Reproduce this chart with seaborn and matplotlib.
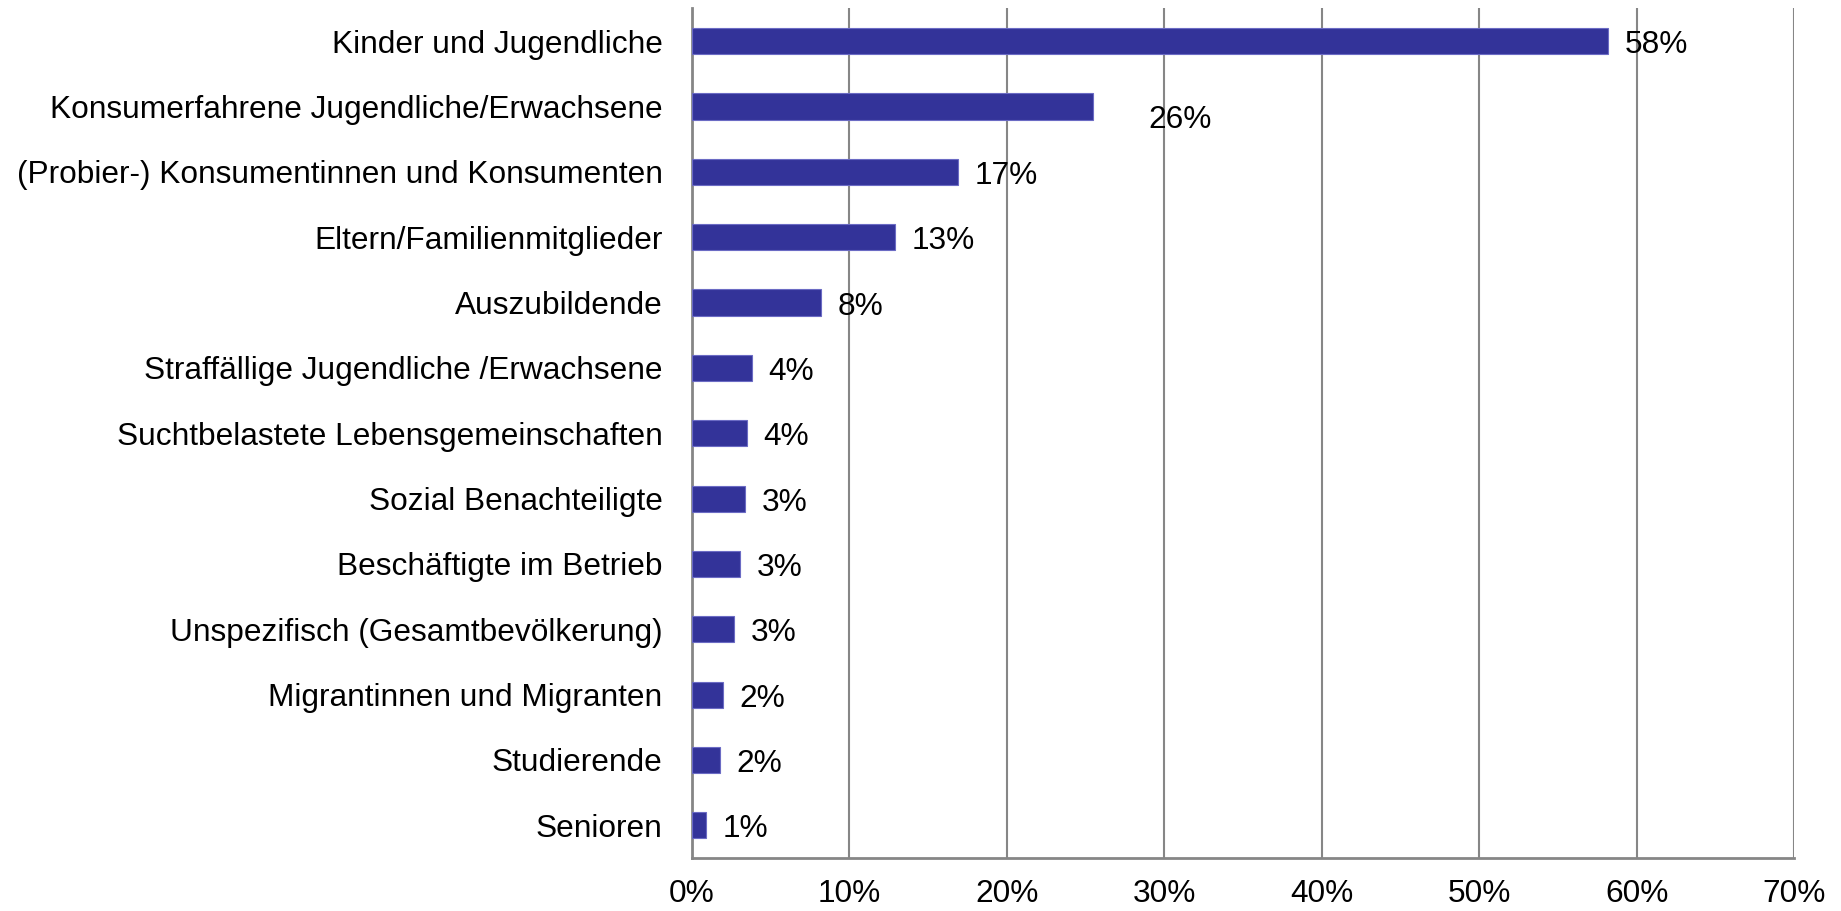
import matplotlib
matplotlib.use("Agg")
import matplotlib.pyplot as plt
import seaborn as sns
import pandas as pd
from matplotlib.ticker import PercentFormatter, FixedLocator

# ======================================
# Daten
# ======================================
zielgruppen = [
    "Kinder und Jugendliche",
    "Konsumerfahrene Jugendliche/Erwachsene",
    "(Probier-) Konsumentinnen und Konsumenten",
    "Eltern/Familienmitglieder",
    "Auszubildende",
    "Straffällige Jugendliche /Erwachsene",
    "Suchtbelastete Lebensgemeinschaften",
    "Sozial Benachteiligte",
    "Beschäftigte im Betrieb",
    "Unspezifisch (Gesamtbevölkerung)",
    "Migrantinnen und Migranten",
    "Studierende",
    "Senioren",
]
anteile = [58.2, 25.5, 16.9, 12.9, 8.2, 3.8, 3.5, 3.4, 3.1, 2.7, 2.0, 1.8, 0.9]
x_ticks = [0, 10, 20, 30, 40, 50, 60, 70]

df = pd.DataFrame({"gruppe": zielgruppen, "anteil": anteile})

# ======================================
# Stil
# ======================================
sns.set_style("white")
plt.rcParams["font.family"] = ["Liberation Sans", "DejaVu Sans"]
plt.rcParams["text.color"] = "black"
plt.rcParams["xtick.labelcolor"] = "black"
plt.rcParams["ytick.labelcolor"] = "black"
grau = "#868686"
fs = 22.8

fig = plt.figure(figsize=(18.41, 9.11), dpi=100)
ax = fig.add_axes([0.3757, 0.0582, 0.5988, 0.9325])

sns.barplot(data=df, x="anteil", y="gruppe", orient="h", color="#333399",
            saturation=1, width=0.4, edgecolor="#6b6bc4", linewidth=0.8,
            ax=ax, zorder=3)

ax.set_xlim(0, 70)
ax.set_ylim(len(zielgruppen) - 0.5, -0.5)
ax.xaxis.set_major_locator(FixedLocator(x_ticks))
ax.xaxis.set_major_formatter(PercentFormatter(decimals=0))
ax.grid(axis="x", color=grau, linewidth=1.5, zorder=0)
ax.set_axisbelow(True)
ax.set_xlabel("")
ax.set_ylabel("")

for s in ["top", "right"]:
    ax.spines[s].set_visible(False)
for s in ["left", "bottom"]:
    ax.spines[s].set_color(grau)
    ax.spines[s].set_linewidth(2)

ax.tick_params(axis="x", length=4, width=1.2, color=grau, pad=11,
               labelsize=fs, labelcolor="black", direction="out")
ax.tick_params(axis="y", which="major", length=0, pad=21, labelsize=fs,
               labelcolor="black")
ax.set_yticks([i + 0.5 for i in range(-1, len(zielgruppen))], minor=True)
ax.tick_params(axis="y", which="minor", length=5, width=1.2, color=grau,
               direction="out")

# Datenbeschriftungen
for i, v in enumerate(anteile):
    dx, dy = 12, -3
    if i == 1:
        dx, dy = 40, -10
    ax.annotate(f"{v:.0f}%", xy=(v, i), xytext=(dx, dy),
                textcoords="offset points", ha="left", va="center",
                fontsize=fs, color="black", zorder=4)

fig.savefig("out.png", dpi=100)
